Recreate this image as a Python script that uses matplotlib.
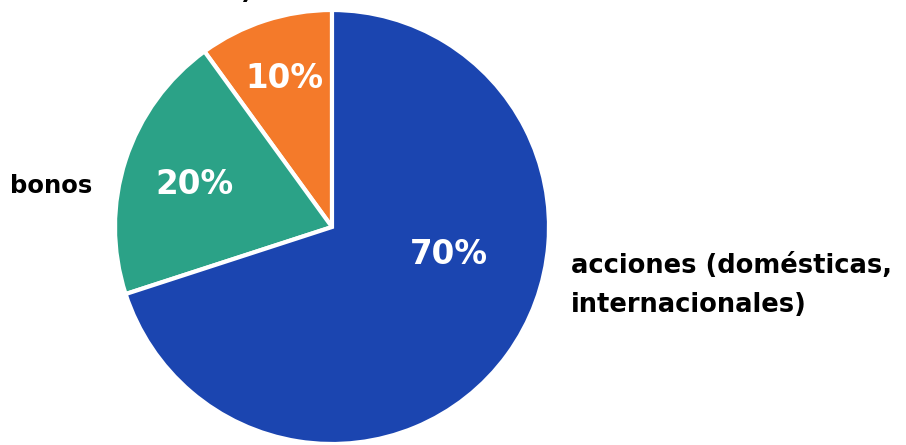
import matplotlib
matplotlib.use("Agg")
import matplotlib.pyplot as plt

categories = ["efectivo", "bonos", "acciones"]
values = [10, 20, 70]
pct_labels = ["10%", "20%", "70%"]
colors = ["#f47a2a", "#2ba287", "#1b45b0"]

plt.rcParams['font.family'] = ['DejaVu Sans']

fig = plt.figure(figsize=(9.06, 4.45), dpi=100)
ax = fig.add_axes([0, 0, 1, 1])

wedges, texts = ax.pie(values, colors=colors, startangle=90, counterclock=True,
                       center=(332, 218), radius=217, frame=True,
                       wedgeprops=dict(edgecolor='white', linewidth=3))
ax.set_xlim(0, 906)
ax.set_ylim(0, 445)
ax.axis('off')

pos = [(284, 366), (194, 261), (449, 191)]
for (x, y), t in zip(pos, pct_labels):
    ax.text(x, y, t, color='white', fontsize=23.5, fontweight='bold',
            ha='center', va='center')

ax.text(10, 252, "bonos", fontsize=17.5, fontweight='bold', ha='left', va='baseline')
ax.text(571, 172, "acciones (domésticas,", fontsize=18.5,
        fontweight='bold', ha='left', va='baseline')
ax.text(571, 133, "internacionales)", fontsize=18.5,
        fontweight='bold', ha='left', va='baseline')
ax.text(252, 446.5, "efectivo (mercado monetario)", fontsize=18, fontweight='bold',
        ha='right', va='baseline')

fig.savefig("out.png", dpi=100)
